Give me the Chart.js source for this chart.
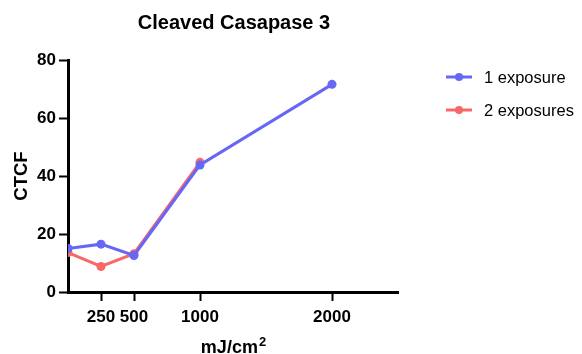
<!DOCTYPE html>
<html>
<head>
<meta charset="utf-8">
<script src="https://cdn.jsdelivr.net/npm/chart.js@4/dist/chart.umd.min.js"></script>
<style>
  html, body { margin: 0; padding: 0; background: #fff; }
  #wrap { width: 582px; height: 354px; position: relative; }
</style>
</head>
<body>
<div id="wrap"><canvas id="c"></canvas></div>
<script>
// Dose (mJ/cm²) and CTCF values for each exposure group
const doses = [0, 250, 500, 1000, 2000];
const oneExposure = [15.0, 16.5, 12.6, 43.8, 71.6];
const twoExposures = [13.6, 8.8, 13.2, 44.7, null];
const xTicks = [250, 500, 1000, 2000];
const yTicks = [0, 20, 40, 60, 80];
const seriesNames = ['1 exposure', '2 exposures'];
const seriesColors = ['#6767f6', '#f86868'];

const FONT = '"Liberation Sans", Arial, Helvetica, sans-serif';

const toPoints = vals => doses.map((d, i) => ({ x: d, y: vals[i] }));

// Title, axis titles and legend drawn as canvas text
const decorations = {
  id: 'decorations',
  afterDraw(chart) {
    const ctx = chart.ctx;
    const area = chart.chartArea;
    const cx = (area.left + area.right) / 2;
    ctx.save();
    ctx.fillStyle = '#000';

    // chart title
    ctx.font = 'bold 20px ' + FONT;
    ctx.textAlign = 'center';
    ctx.textBaseline = 'alphabetic';
    ctx.fillText('Cleaved Casapase 3', cx + 1, 29);

    // x axis title with superscript
    ctx.font = 'bold 18px ' + FONT;
    const base = 'mJ/cm';
    const wBase = ctx.measureText(base).width;
    ctx.font = 'bold 13px ' + FONT;
    const wSup = ctx.measureText('2').width;
    const startX = cx - (wBase + wSup) / 2;
    ctx.textAlign = 'left';
    ctx.font = 'bold 18px ' + FONT;
    ctx.fillText(base, startX, 353);
    ctx.font = 'bold 13px ' + FONT;
    ctx.fillText('2', startX + wBase + 1, 346);

    // y axis title
    ctx.translate(27, (area.top + area.bottom) / 2);
    ctx.rotate(-Math.PI / 2);
    ctx.textAlign = 'center';
    ctx.font = 'bold 18.5px ' + FONT;
    ctx.fillText('CTCF', 0, 0);
    ctx.restore();

    // legend
    ctx.save();
    const rows = [77, 110];
    seriesNames.forEach((name, i) => {
      const y = rows[i];
      ctx.strokeStyle = seriesColors[i];
      ctx.lineWidth = 3;
      ctx.beginPath();
      ctx.moveTo(446, y);
      ctx.lineTo(472, y);
      ctx.stroke();
      ctx.fillStyle = seriesColors[i];
      ctx.beginPath();
      ctx.arc(459, y, 4, 0, Math.PI * 2);
      ctx.fill();
      ctx.fillStyle = '#000';
      ctx.font = '16.5px ' + FONT;
      ctx.textAlign = 'left';
      ctx.textBaseline = 'middle';
      ctx.fillText(name, 484, y + 1);
    });
    ctx.restore();
  }
};

const tickFont = { family: FONT, size: 17, weight: 'bold' };

new Chart(document.getElementById('c'), {
  type: 'line',
  data: {
    datasets: [
      {
        label: seriesNames[0],
        data: toPoints(oneExposure),
        borderColor: seriesColors[0],
        backgroundColor: seriesColors[0],
        borderWidth: 3,
        pointRadius: 4.5,
        pointHoverRadius: 4.5,
        pointBorderWidth: 0,
        tension: 0
      },
      {
        label: seriesNames[1],
        data: toPoints(twoExposures),
        borderColor: seriesColors[1],
        backgroundColor: seriesColors[1],
        borderWidth: 3,
        pointRadius: 4.5,
        pointHoverRadius: 4.5,
        pointBorderWidth: 0,
        tension: 0
      }
    ]
  },
  options: {
    responsive: true,
    maintainAspectRatio: false,
    animation: false,
    devicePixelRatio: 1,
    layout: { padding: { left: 0, right: 184, top: 60, bottom: 0 } },
    plugins: {
      legend: { display: false },
      title: { display: false },
      tooltip: { enabled: false }
    },
    scales: {
      x: {
        type: 'linear',
        min: 0,
        max: 2500,
        afterBuildTicks(scale) { scale.ticks = xTicks.map(v => ({ value: v })); },
        afterFit(scale) { scale.height = 62; },
        ticks: {
          color: '#000',
          font: tickFont,
          padding: 6,
          maxRotation: 0,
          autoSkip: false,
          callback: v => String(v)
        },
        grid: {
          display: true,
          drawOnChartArea: false,
          drawTicks: true,
          tickLength: 9,
          tickWidth: 2,
          tickColor: '#000'
        },
        border: { display: true, color: '#000', width: 3 }
      },
      y: {
        type: 'linear',
        min: 0,
        max: 80,
        afterBuildTicks(scale) { scale.ticks = yTicks.map(v => ({ value: v })); },
        afterFit(scale) { scale.width = 68; },
        ticks: {
          color: '#000',
          font: tickFont,
          padding: 3,
          callback: v => String(v)
        },
        grid: {
          display: true,
          drawOnChartArea: false,
          drawTicks: true,
          tickLength: 9,
          tickWidth: 2,
          tickColor: '#000'
        },
        border: { display: true, color: '#000', width: 3 }
      }
    }
  },
  plugins: [decorations]
});
</script>
</body>
</html>
